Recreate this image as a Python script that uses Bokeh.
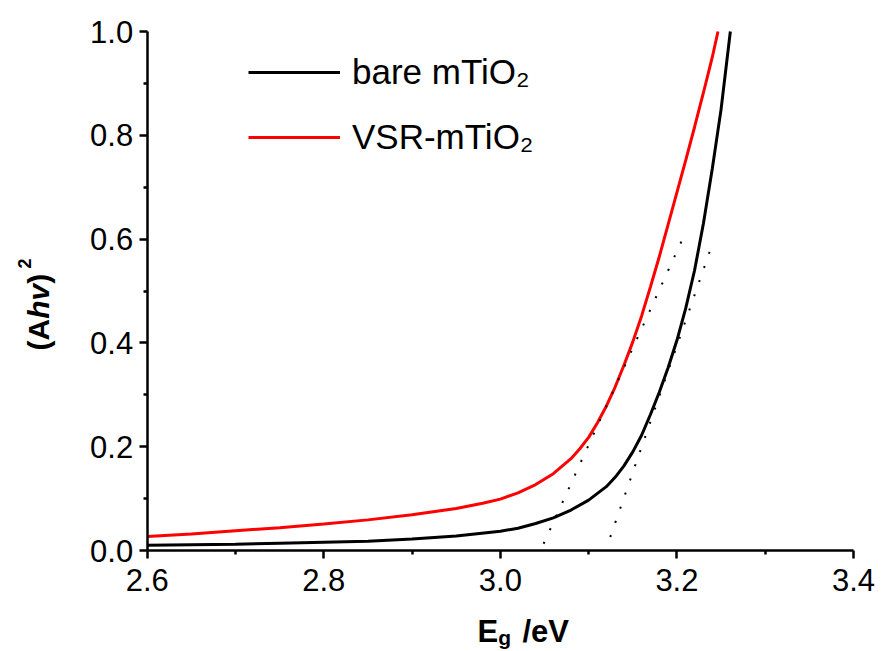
import math
from bokeh.plotting import figure
from bokeh.models import (FixedTicker, PrintfTickFormatter, Label, Legend, LegendItem,
                          LinearAxis)
from bokeh.embed import file_html
from bokeh.resources import INLINE

# ---------------- data ----------------
bare_x = [2.60, 2.65, 2.70, 2.75, 2.80, 2.85, 2.90, 2.95, 3.00, 3.02, 3.04, 3.06,
          3.08, 3.10, 3.12, 3.13, 3.14, 3.15, 3.16, 3.17, 3.18, 3.19, 3.20, 3.21,
          3.22, 3.23, 3.24, 3.25, 3.2605]
bare_y = [0.010, 0.011, 0.012, 0.014, 0.016, 0.018, 0.022, 0.028, 0.037, 0.043, 0.052, 0.063,
          0.078, 0.097, 0.123, 0.141, 0.163, 0.190, 0.222, 0.262, 0.305, 0.352, 0.405, 0.467,
          0.540, 0.630, 0.735, 0.850, 1.000]

vsr_x = [2.60, 2.65, 2.70, 2.75, 2.80, 2.85, 2.90, 2.95, 2.98, 3.00, 3.02, 3.04,
         3.06, 3.08, 3.09, 3.10, 3.11, 3.12, 3.13, 3.14, 3.15, 3.16, 3.17, 3.18,
         3.19, 3.20, 3.21, 3.22, 3.23, 3.24, 3.2465]
vsr_y = [0.027, 0.032, 0.038, 0.044, 0.051, 0.059, 0.069, 0.081, 0.091, 0.099, 0.111, 0.127,
         0.148, 0.177, 0.196, 0.218, 0.246, 0.278, 0.315, 0.357, 0.402, 0.452, 0.508, 0.566,
         0.628, 0.690, 0.752, 0.816, 0.882, 0.950, 1.000]

# tangent (band-gap extrapolation) lines
tan_vsr_x = [3.049, 3.206]
tan_vsr_y = [0.013, 0.599]
tan_bare_x = [3.1245, 3.240]
tan_bare_y = [0.026, 0.590]

series_names = ["bare mTiO\u2082", "VSR-mTiO\u2082"]

x_ticks = [2.6, 2.8, 3.0, 3.2, 3.4]
x_minor = [2.7, 2.9, 3.1, 3.3]
y_ticks = [0.0, 0.2, 0.4, 0.6, 0.8, 1.0]
y_minor = [0.1, 0.3, 0.5, 0.7, 0.9]

# ---------------- layout ----------------
W, H = 884, 650
PX_XL, PX_XR = 146.7, 853.0   # pixel columns of the x-axis ends
PX_YT, PX_YB = 31.0, 550.0    # pixel rows of the y-axis ends
xa, xb = x_ticks[0], x_ticks[-1]
ya, yb = y_ticks[0], y_ticks[-1]
sx = (PX_XR - PX_XL) / (xb - xa)
sy = (PX_YB - PX_YT) / (yb - ya)
x_start = xa - PX_XL / sx
x_end = x_start + W / sx
y_end = yb + PX_YT / sy
y_start = y_end - H / sy


def dx(px):
    return x_start + px / sx


def dy(py):
    return y_end - py / sy


FONT = "Liberation Sans"

p = figure(width=W, height=H,
           x_range=(x_start, x_end), y_range=(y_start, y_end),
           x_axis_location=None, y_axis_location=None,
           output_backend="svg", toolbar_location=None,
           min_border=0)
p.outline_line_color = None
p.xgrid.visible = False
p.ygrid.visible = False
p.background_fill_color = "white"
p.border_fill_color = "white"

xaxis = LinearAxis(fixed_location=ya, bounds=(xa, xb),
                   ticker=FixedTicker(ticks=x_ticks, minor_ticks=x_minor),
                   formatter=PrintfTickFormatter(format="%.1f"))
yaxis = LinearAxis(fixed_location=xa, bounds=(ya, yb),
                   ticker=FixedTicker(ticks=y_ticks, minor_ticks=y_minor),
                   formatter=PrintfTickFormatter(format="%.1f"))
p.add_layout(xaxis, "below")
p.add_layout(yaxis, "left")

for ax in (xaxis, yaxis):
    ax.axis_line_width = 2.5
    ax.axis_line_color = "black"
    ax.major_tick_line_width = 2.5
    ax.minor_tick_line_width = 2.5
    ax.major_tick_line_color = "black"
    ax.minor_tick_line_color = "black"
    ax.major_tick_in = 0
    ax.minor_tick_in = 0
    ax.major_tick_out = 8
    ax.minor_tick_out = 4
    ax.major_label_text_font = FONT
    ax.major_label_text_font_size = "31px"
    ax.major_label_text_color = "black"
xaxis.major_label_standoff = 10
yaxis.major_label_standoff = 6

# curves
r_bare = p.line(bare_x, bare_y, line_color="black", line_width=3)
r_vsr = p.line(vsr_x, vsr_y, line_color="#ff0000", line_width=3)

# dotted tangent lines
p.line(tan_vsr_x, tan_vsr_y, line_color="black", line_width=2, line_dash="2 13")
p.line(tan_bare_x, tan_bare_y, line_color="black", line_width=2, line_dash="2 13")

legend = Legend(items=[LegendItem(label=series_names[0], renderers=[r_bare]),
                       LegendItem(label=series_names[1], renderers=[r_vsr])],
                location=(248, H - 159),
                padding=0, margin=0, spacing=21,
                glyph_width=92, glyph_height=44, label_height=44,
                label_standoff=12,
                label_text_font=FONT, label_text_font_size="35px",
                label_text_color="black",
                border_line_color=None, background_fill_alpha=0)
p.add_layout(legend)

TXT = dict(text_font=FONT, text_font_style="bold", text_color="black",
           text_baseline="alphabetic")

# x-axis title: E_g /eV
xl_x, xl_y = dx(477), dy(631)
p.add_layout(Label(x=xl_x, y=xl_y, text="E", text_font_size="31px", **TXT))
p.add_layout(Label(x=xl_x, y=xl_y, x_offset=20.7, y_offset=-6, text="g",
                   text_font_size="21px", **TXT))
p.add_layout(Label(x=xl_x, y=xl_y, x_offset=45, text="/eV", text_font_size="31px", **TXT))

# y-axis title: (Ahv)^2, rotated
yl_x, yl_y = dx(38), dy(350)
ang = math.pi / 2
p.add_layout(Label(x=yl_x, y=yl_y, text="(A", angle=ang, text_font_size="30px", **TXT))
p.add_layout(Label(x=yl_x, y=yl_y, y_offset=31.7, text="hv", angle=ang,
                   text_font_size="30px",
                   **dict(TXT, text_font_style="bold italic")))
p.add_layout(Label(x=yl_x, y=yl_y, y_offset=66.7, text=")", angle=ang,
                   text_font_size="30px", **TXT))
p.add_layout(Label(x=yl_x, y=yl_y, y_offset=82, x_offset=-14, text="2", angle=ang,
                   text_font_size="18px", **TXT))

open("out.html", "w").write(file_html(p, INLINE))
